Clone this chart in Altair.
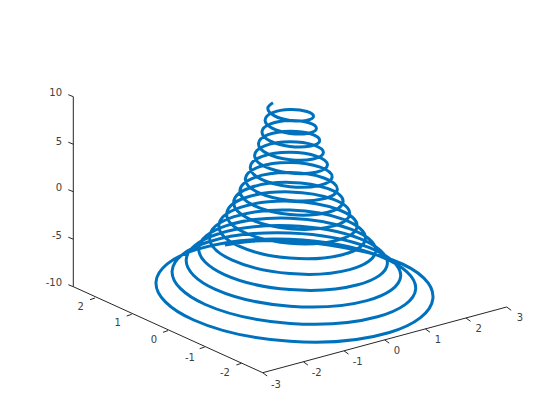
import altair as alt
import pandas as pd

spiral_h = [225.0, 290.0, 392.6,
    432.9, 389.4, 290.0, 193.7, 156.0, 196.7, 290.0, 380.3,
    415.7, 377.5, 290.0, 205.3, 172.1, 208.0, 290.0, 369.5,
    400.7, 367.0, 290.0, 215.4, 186.2, 217.8, 290.0, 359.9,
    387.4, 357.8, 290.0, 224.4, 198.7, 226.5, 290.0, 351.5,
    375.7, 349.6, 290.0, 232.3, 209.6, 234.1, 290.0, 344.2,
    365.4, 342.5, 290.0, 239.0, 218.9, 240.4, 290.0, 338.1,
    357.1, 336.7, 290.0, 244.6, 226.7, 245.9, 290.0, 332.8,
    349.7, 331.6, 290.0, 249.6, 233.7, 250.7, 290.0, 328.1,
    343.1, 327.0, 290.0, 254.0, 239.9, 255.1, 290.0, 323.9,
    337.3, 323.0, 290.0, 258.0, 245.3, 258.9, 290.0, 320.2,
    332.1, 319.3, 290.0, 261.5, 250.3, 262.3, 290.0, 316.9,
    327.5, 316.1, 290.0, 264.6, 254.6, 265.3, 290.0, 313.9,
    323.4, 313.2, 290.0, 267.4, 258.5, 268.1, 290.0, 311.3,
    319.7, 310.7, 290.0, 269.9, 262.0, 270.5, 290.0, 308.9,
    316.4, 308.4, 290.0, 272.1, 265.1, 272.6, 290.0, 306.9,
    313.5, 306.4, 290.0, 274.1, 267.8, 273.0]
spiral_v = [245.0, 241.0, 260.0,
    298.5, 332.5, 341.3, 320.0, 282.2, 249.4, 239.3, 256.4,
    288.9, 316.8, 323.4, 304.5, 271.0, 242.0, 232.9, 247.7,
    276.2, 300.6, 306.2, 289.4, 259.8, 234.0, 225.8, 238.7,
    263.6, 284.8, 289.6, 274.6, 248.4, 225.6, 218.2, 229.4,
    251.0, 269.6, 273.6, 260.2, 237.0, 216.7, 210.0, 219.7,
    238.6, 254.7, 258.1, 246.2, 225.4, 207.3, 201.2, 209.5,
    226.2, 240.4, 243.3, 232.5, 213.9, 197.5, 191.9, 199.2,
    213.9, 226.4, 228.7, 219.0, 202.2, 187.5, 182.4, 188.7,
    201.6, 212.5, 214.5, 205.6, 190.6, 177.3, 172.6, 178.0,
    189.3, 198.9, 200.4, 192.4, 178.9, 166.9, 162.5, 167.2,
    177.1, 185.5, 186.7, 179.4, 167.1, 156.3, 152.3, 156.3,
    164.9, 172.2, 173.1, 166.4, 155.4, 145.6, 141.8, 145.2,
    152.7, 159.0, 159.7, 153.6, 143.6, 134.7, 131.2, 134.0,
    140.6, 146.0, 146.5, 140.9, 131.8, 123.8, 120.5, 122.8,
    128.5, 133.2, 133.4, 128.2, 120.0, 112.6, 109.5, 111.5,
    116.4, 120.4, 120.4, 115.6, 108.1, 102.7]

# axis box lines: start and end in the view plane
axis_h1 = [73.3, 73.3, 262.7]
axis_v1 = [96.7, 286.7, 372.7]
axis_h2 = [73.3, 262.7, 506.7]
axis_v2 = [286.7, 372.7, 307.0]

# tick marks: start and end in the view plane
z_tick_h1 = [73.3, 73.3, 73.3, 73.3, 73.3]
z_tick_v1 = [96.7, 144.2, 191.7, 239.2, 286.7]
z_tick_h2 = [68.3, 68.3, 68.3, 68.3, 68.3]
z_tick_v2 = [94.7, 142.2, 189.7, 237.2, 284.7]
y_tick_h1 = [95.0, 131.7, 168.0, 204.7, 241.4]
y_tick_v1 = [298.0, 314.3, 330.6, 347.0, 363.3]
y_tick_h2 = [90.0, 126.7, 163.0, 199.7, 236.4]
y_tick_v2 = [299.7, 316.0, 332.3, 348.7, 365.0]
x_tick_h1 = [262.7, 303.4, 344.0, 384.7, 425.4, 466.0, 506.7]
x_tick_v1 = [372.7, 361.8, 350.8, 339.9, 328.9, 318.0, 307.0]
x_tick_h2 = [267.2, 307.9, 348.5, 389.2, 429.9, 470.5, 511.2]
x_tick_v2 = [376.0, 365.1, 354.1, 343.2, 332.2, 321.3, 310.3]

# tick labels
x_labels = ["-3", "-2", "-1", "0", "1", "2", "3"]
x_label_h = [276.0, 316.7, 357.7, 397.0, 438.0, 478.7, 520.0]
x_label_v = [384.7, 373.3, 362.3, 351.0, 340.3, 329.0, 318.3]
y_labels = ["2", "1", "0", "-1", "-2"]
y_label_h = [80.7, 117.7, 154.0, 190.0, 225.0]
y_label_v = [306.7, 323.3, 340.0, 358.0, 372.5]
z_labels = ["10", "5", "0", "-5", "-10"]
z_label_h = [62.0, 62.0, 62.0, 62.0, 62.0]
z_label_v = [93.3, 141.7, 188.3, 235.7, 283.3]

BLUE = "#0072BD"
AXIS = "#262626"
TEXT = "#404040"
FONT = "DejaVu Sans"

X = alt.Scale(domain=[8, 548], range=[0, 540])
Y = alt.Scale(domain=[408, 8], range=[400, 0])


def xq(name):
    return alt.X(name, type="quantitative", scale=X, axis=None)


def yq(name):
    return alt.Y(name, type="quantitative", scale=Y, axis=None)


segments = pd.DataFrame({
    "h1": axis_h1 + z_tick_h1 + y_tick_h1 + x_tick_h1,
    "v1": axis_v1 + z_tick_v1 + y_tick_v1 + x_tick_v1,
    "h2": axis_h2 + z_tick_h2 + y_tick_h2 + x_tick_h2,
    "v2": axis_v2 + z_tick_v2 + y_tick_v2 + x_tick_v2,
})
rules = alt.Chart(segments).mark_rule(color=AXIS, strokeWidth=1).encode(
    x=xq("h1"), y=yq("v1"), x2="h2", y2="v2"
)

spiral = pd.DataFrame({"h": spiral_h, "v": spiral_v, "i": list(range(len(spiral_h)))})
line = alt.Chart(spiral).mark_line(
    color=BLUE, strokeWidth=3, interpolate="natural", strokeJoin="round"
).encode(x=xq("h"), y=yq("v"), order=alt.Order("i:Q"))

centered = pd.DataFrame({
    "t": x_labels + y_labels,
    "h": x_label_h + y_label_h,
    "v": x_label_v + y_label_v,
})
labels_c = alt.Chart(centered).mark_text(
    font=FONT, fontSize=10, color=TEXT, align="center", baseline="middle"
).encode(x=xq("h"), y=yq("v"), text="t:N")

right = pd.DataFrame({"t": z_labels, "h": z_label_h, "v": z_label_v})
labels_r = alt.Chart(right).mark_text(
    font=FONT, fontSize=10, color=TEXT, align="right", baseline="middle"
).encode(x=xq("h"), y=yq("v"), text="t:N")

chart = alt.layer(rules, line, labels_c, labels_r).properties(
    width=540, height=400, padding=0, autosize=alt.AutoSizeParams(type="none"),
    view=alt.ViewConfig(stroke="transparent", strokeWidth=0)
).configure(background="white").configure_view(strokeWidth=0, stroke="transparent")

chart.save("out.html", embed_options={"renderer": "svg", "actions": False})
